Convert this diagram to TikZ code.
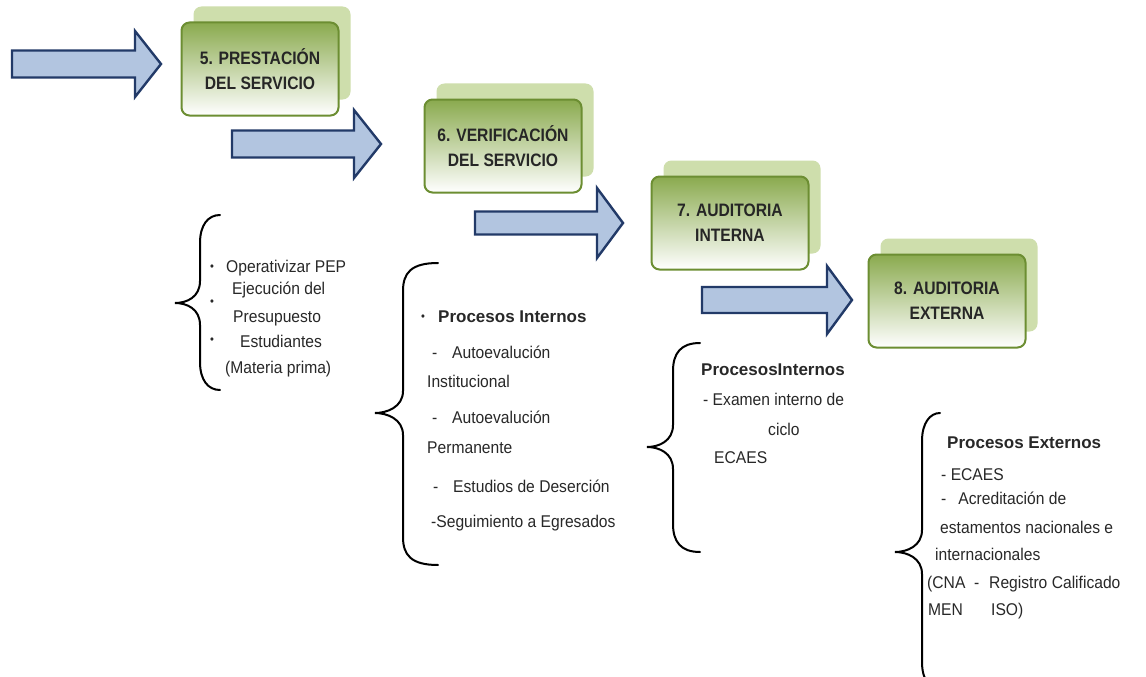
\documentclass[tikz,border=0pt]{standalone}
\usepackage{fontspec}
\setmainfont{Liberation Sans}
\newfontfamily\boxfont{Liberation Sans}[FakeStretch=0.87]
\newfontfamily\bodyfont{Liberation Sans}[FakeStretch=0.92]
\newfontfamily\headfont{Liberation Sans}
\definecolor{arrowfill}{RGB}{178,197,224}
\definecolor{arrowline}{RGB}{34,58,104}
\definecolor{gtop}{RGB}{138,170,78}
\definecolor{gmid}{RGB}{196,216,160}
\definecolor{gline}{RGB}{108,142,50}
\definecolor{gback}{RGB}{206,222,172}
\definecolor{textgray}{RGB}{40,40,40}
\newcommand\blockarrow[6]{% x0, yc, shaft half, xhead, head half, xtip
  \draw[barrow] (#1,#2-#3) -- (#4,#2-#3) -- (#4,#2-#5) -- (#6,#2) -- (#4,#2+#5) -- (#4,#2+#3) -- (#1,#2+#3) -- cycle;}
\newcommand\curlybrace[6]{% xv, ytop, ytip, ybot, xtip, xend
  \draw[bracestyle] (#6,#2) .. controls (#1+8,#2) and (#1,#2+10) .. (#1,#2+28)
    -- (#1,#3-22) .. controls (#1,#3-6) and (#5+12,#3) .. (#5,#3)
    .. controls (#5+12,#3) and (#1,#3+6) .. (#1,#3+22)
    -- (#1,#4-28) .. controls (#1,#4-10) and (#1+8,#4) .. (#6,#4);}
\begin{document}
\begin{tikzpicture}[x=1pt,y=-1pt,
  barrow/.style={fill=arrowfill, draw=arrowline, line width=2.4pt, line join=miter},
  backbox/.style={fill=gback, rounded corners=8pt, minimum width=157pt, minimum height=93pt},
  frontbox/.style={draw=gline, line width=2pt, rounded corners=8pt, top color=gtop, middle color=gmid, bottom color=white,
     minimum width=157pt, minimum height=93pt, align=center, text=black!85,
     font=\boxfont\bfseries\fontsize{18}{25}\selectfont},
  bracestyle/.style={draw=black, line width=2pt, line cap=round},
  txt/.style={anchor=west, inner sep=0pt, text height=12pt, text depth=3pt, text=textgray, font=\bodyfont\fontsize{17}{20}\selectfont},
  btxt/.style={txt, font=\headfont\bfseries\fontsize{17}{20}\selectfont},
  bul/.style={anchor=center, inner sep=0pt, text=textgray, font=\bodyfont\fontsize{12}{12}\selectfont}]
\useasboundingbox (0,0) rectangle (1146,677);
\fill[white] (0,0) rectangle (1146,677);

% arrows
\blockarrow{12}{64}{13.5}{135}{33}{161}
\blockarrow{232}{144}{13.5}{354}{34}{381}
\blockarrow{475}{223}{11.5}{597}{35}{623}
\blockarrow{702}{300}{13}{827}{34}{852}

% boxes
\node[backbox] (b5back) at (272,53) {};
\node[frontbox] (b5) at (260,69) {5. PRESTACIÓN\\DEL SERVICIO};
\node[backbox] (b6back) at (515,130) {};
\node[frontbox] (b6) at (503,146) {6. VERIFICACIÓN\\DEL SERVICIO};
\node[backbox] (b7back) at (742,207) {};
\node[frontbox] (b7) at (730,223) {7. AUDITORIA\\INTERNA};
\node[backbox] (b8back) at (959,285) {};
\node[frontbox] (b8) at (947,301) {8. AUDITORIA\\EXTERNA};

% braces
\curlybrace{200}{215}{303}{390}{175}{220}
\curlybrace{403}{263}{413}{565}{375}{438}
\curlybrace{673}{343}{447}{552}{647}{700}
\curlybrace{922}{413}{552}{690}{895}{940}

% group 1
\node[bul] (g1b1) at (212,268) {•};
\node[bul] (g1b2) at (212,303) {•};
\node[bul] (g1b3) at (212,341) {•};
\node[txt] (g1t1) at (226,268) {Operativizar PEP};
\node[txt] (g1t2) at (232,290) {Ejecución del};
\node[txt] (g1t3) at (233,318) {Presupuesto};
\node[txt] (g1t4) at (240,343) {Estudiantes};
\node[txt] (g1t5) at (225,369) {(Materia prima)};

% group 2
\node[bul] (g2b1) at (423,318) {•};
\node[btxt] (g2t1) at (438,318) {Procesos Internos};
\node[txt] (g2d1) at (432,354) {-};
\node[txt] (g2t2) at (452,354) {Autoevalución};
\node[txt] (g2t3) at (427,383) {Institucional};
\node[txt] (g2d2) at (432,419) {-};
\node[txt] (g2t4) at (452,419) {Autoevalución};
\node[txt] (g2t5) at (427,449) {Permanente};
\node[txt] (g2d3) at (433,488) {-};
\node[txt] (g2t6) at (453,488) {Estudios de Deserción};
\node[txt] (g2t7) at (431,523) {-Seguimiento a Egresados};

% group 3
\node[btxt] (g3t1) at (701,371) {ProcesosInternos};
\node[txt] (g3t2) at (703,401) {- Examen interno de};
\node[txt] (g3t3) at (768,431) {ciclo};
\node[txt] (g3t4) at (714,459) {ECAES};

% group 4
\node[btxt] (g4t1) at (947,444) {Procesos Externos};
\node[txt] (g4t2) at (941,476) {- ECAES};
\node[txt] (g4t3) at (941,500) {-\hspace{12pt}Acreditación de};
\node[txt] (g4t4) at (940,529) {estamentos nacionales e};
\node[txt] (g4t5) at (935,556) {internacionales};
\node[txt] (g4t6) at (927,584) {(CNA};
\node[txt] (g4t7) at (974,584) {-};
\node[txt] (g4t8) at (989,584) {Registro Calificado};
\node[txt] (g4t9) at (928,611) {MEN};
\node[txt] (g4t10) at (991,611) {ISO)};
\end{tikzpicture}
\end{document}
